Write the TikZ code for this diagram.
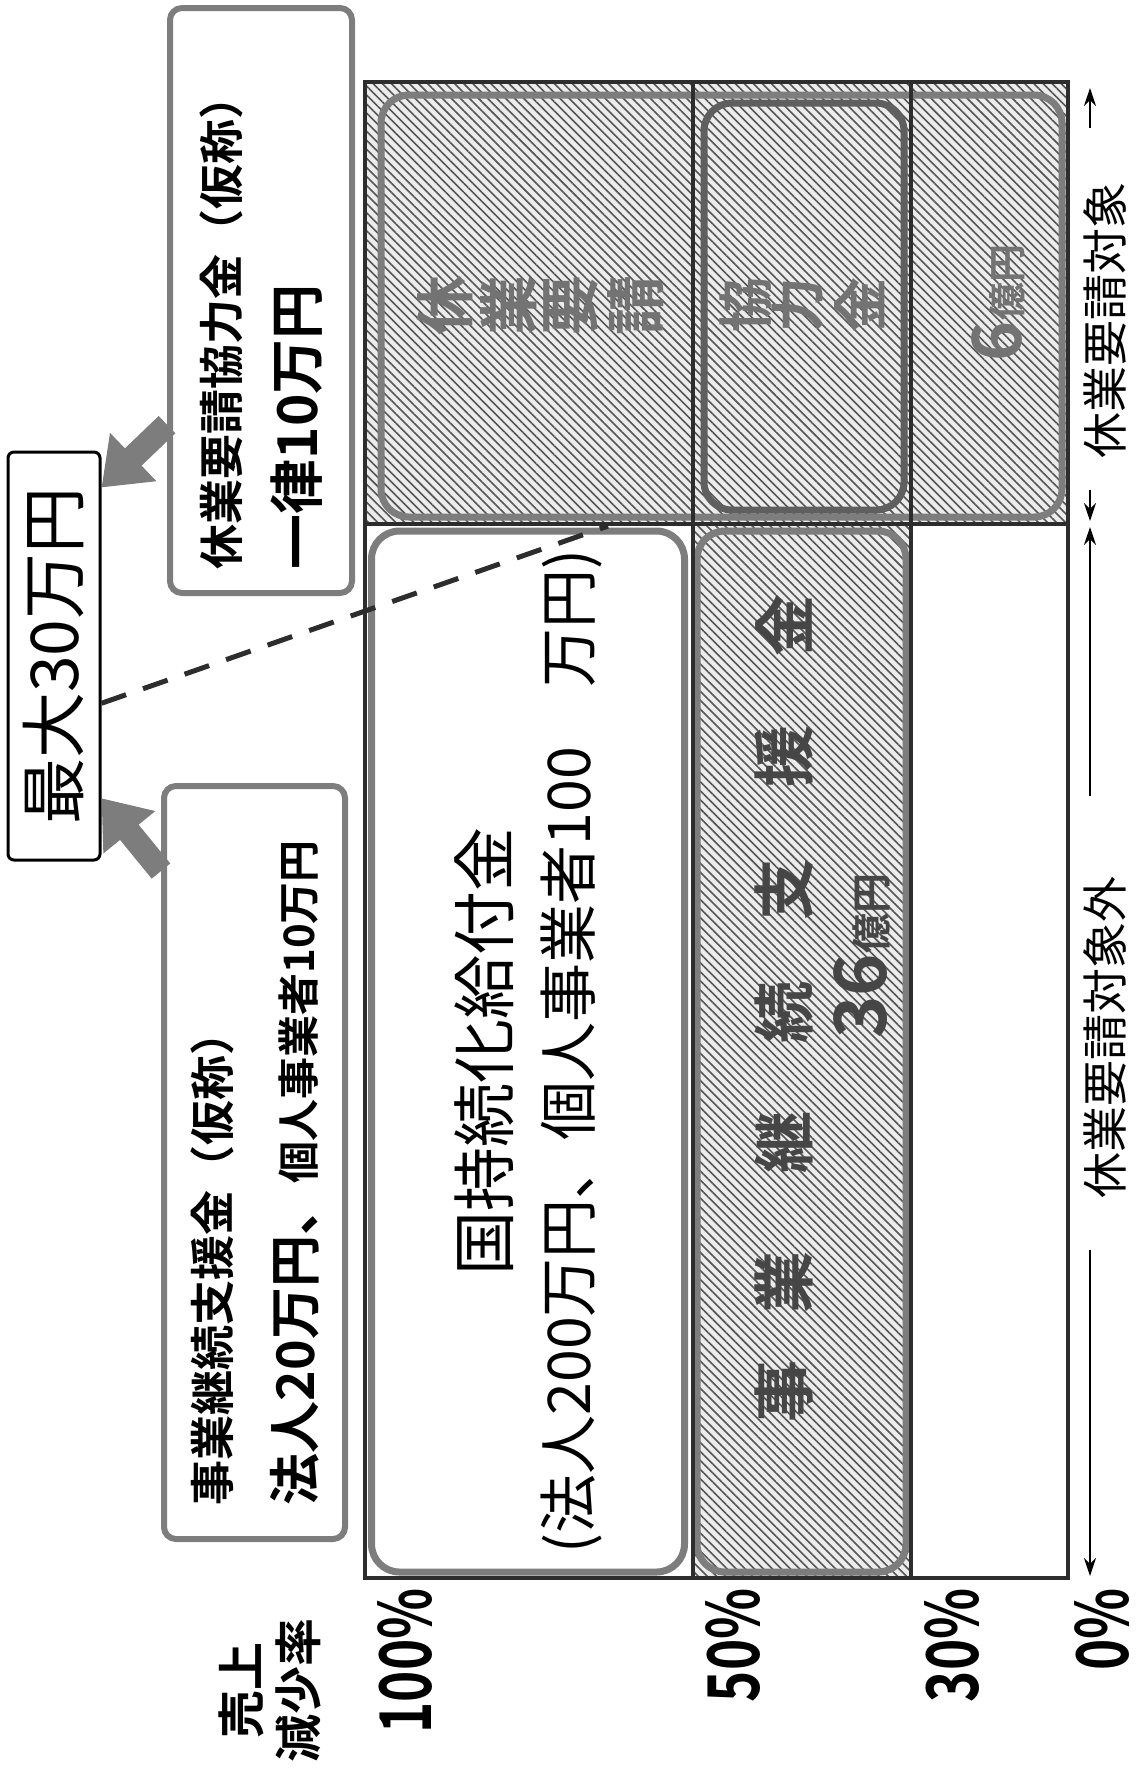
\documentclass[tikz,border=0pt]{standalone}
\usepackage{fontspec}
\usepackage{graphicx}
\setmainfont{Noto Sans CJK JP}[BoldFont={Noto Sans CJK JP Bold}]
\usetikzlibrary{arrows.meta,calc,patterns.meta}
\definecolor{box_gray}{RGB}{125,125,125}
\definecolor{mid_gray}{RGB}{95,95,95}
\definecolor{line_dark}{RGB}{45,45,45}
\definecolor{hatch_bg}{RGB}{236,236,236}
\definecolor{hatch_line}{RGB}{85,85,85}
\definecolor{txt_gray}{RGB}{115,115,115}
\definecolor{txt_dark}{RGB}{70,70,70}
\newcommand\tallpct[1]{\scalebox{1}[1.35]{#1}}

\begin{document}
\begin{tikzpicture}[x=0.5pt,y=-0.5pt]
    \tikzstyle{hatch}=[fill=hatch_bg, postaction={pattern={Lines[angle=-45,distance=3.2pt,line width=0.8pt]}, pattern color=hatch_line}]
    \tikzstyle{region}=[draw=box_gray, line width=3.5pt, rounded corners=14pt]
    \tikzstyle{divider}=[draw=line_dark, line width=1.6pt]
    \tikzstyle{bandch}=[rotate=90, text=txt_gray, font=\fontsize{30}{30}\selectfont\bfseries]
    \tikzstyle{jgch}=[rotate=90, text=txt_dark, font=\fontsize{31}{31}\selectfont\bfseries]
    \tikzstyle{infobox}=[draw=box_gray, line width=3pt, rounded corners=6pt, fill=white, rotate=90, align=left]
    \tikzstyle{fat}=[draw=box_gray, line width=12pt, -{Triangle[length=22pt,width=32pt]}]
    \tikzstyle{dashln}=[draw=line_dark, line width=2.5pt, dash pattern=on 13pt off 9pt]
    \tikzstyle{pct}=[rotate=90, anchor=north east, inner sep=0pt, font=\fontsize{26.5}{26.5}\selectfont\bfseries]
    \tikzstyle{sidelbl}=[rotate=90, inner sep=0pt, font=\fontsize{23}{23}\selectfont]
    \tikzstyle{rng}=[draw=black, line width=1.2pt, -{Stealth[length=9pt,width=6pt]}]

    \useasboundingbox (0,0) rectangle (1144,1774);

    \coordinate (fnw) at (365,82);
    \coordinate (fse) at (1068,1578);
    \coordinate (c50) at (693,82);
    \coordinate (c30) at (911,82);
    \coordinate (bandl) at (365,524);

    % hatched parts
    \fill[hatch] (fnw) rectangle (1068,524);
    \fill[hatch] (693,524) rectangle (911,1578);

    \node[region, minimum width=340.5pt, minimum height=211pt] (kybox) at (721.5,306) {};
    \node[region, draw=mid_gray, minimum width=100pt, minimum height=203.5pt] (kymid) at (804,306.5) {};
    \node[region, rotate=90, minimum width=520.5pt, minimum height=156.5pt, align=center, font=\fontsize{32}{41}\selectfont] (kzbox) at (528,1051.5) {国持続化給付金\\{\fontsize{29.5}{41}\selectfont (法人200万円、個人事業者100　万円)}};
    \node[region, minimum width=104.5pt, minimum height=520.5pt] (jgbox) at (801.5,1051.5) {};

    \draw[divider] (bandl) -- (fse |- bandl);
    \draw[divider] (c50) -- (c50 |- fse);
    \draw[divider] (c30) -- (c30 |- fse);
    \draw[divider] (fnw) rectangle (fse);

    \node[bandch] (k1) at (445,305) {休};
    \node[bandch] (k2) at (509,305) {業};
    \node[bandch] (k3) at (571,305) {要};
    \node[bandch] (k4) at (636,305) {請};
    \node[bandch, font=\fontsize{27.5}{30}\selectfont\bfseries] (k5) at (746,305) {協};
    \node[bandch, font=\fontsize{27.5}{30}\selectfont\bfseries] (k6) at (798,305) {力};
    \node[bandch, font=\fontsize{27.5}{30}\selectfont\bfseries] (k7) at (860,305) {金};
    \node[bandch] (k8) at (998,303) {\fontsize{34}{34}\selectfont 6\fontsize{19}{19}\selectfont 億円};

    \node[jgch] (j1) at (784,1391) {事};
    \node[jgch] (j2) at (784,1282) {業};
    \node[jgch] (j3) at (784,1142) {継};
    \node[jgch] (j4) at (784,1012) {続};
    \node[jgch] (j5) at (784,889) {支};
    \node[jgch] (j6) at (784,756) {援};
    \node[jgch] (j7) at (784,625) {金};
    \node[jgch] (j8) at (862,956) {\fontsize{36}{36}\selectfont 36\fontsize{20}{20}\selectfont 億円};

    % boxes on the left
    \node[infobox, text width=268.5pt, inner xsep=12pt, minimum height=91pt, font=\fontsize{22.5}{39.5}\selectfont\bfseries] (kyinfo) at (261,300.5) {休業要請協力金（仮称）\\{\fontsize{27.5}{39.5}\selectfont 一律10万円}};
    \node[infobox, text width=342.5pt, inner xsep=17pt, minimum height=90.5pt, font=\fontsize{22.5}{42.5}\selectfont\bfseries] (jginfo) at (254.5,1162.5) {事業継続支援金（仮称）\\{\fontsize{26}{42.5}\selectfont 法人20万円、}{\fontsize{21}{42.5}\selectfont 個人事業者10万円}};
    \node[draw=black, line width=1.5pt, rounded corners=3pt, rotate=90, minimum width=204pt, minimum height=46pt, font=\fontsize{33}{33}\selectfont] (maxbox) at (54,656) {最大30万円};

    \draw[fat] ($(kyinfo.north west)!0.29!(kyinfo.north east)$) -- ($(maxbox.south east)!0.09!(maxbox.south west)$);
    \draw[fat] ($(jginfo.north east)!0.116!(jginfo.north west)$) -- ($(maxbox.south east)!0.846!(maxbox.south west)$);

    \coordinate (dashend) at (608,526);
    \draw[dashln] ($(maxbox.south east)!0.615!(maxbox.south west)$) -- (dashend);

    % axis labels
    \node[pct] (p100) at (377,1588) {\tallpct{100\%}};
    \node[pct] (p50) at (705,1588) {\tallpct{50\%}};
    \node[pct] (p30) at (924,1588) {\tallpct{30\%}};
    \node[pct] (p0) at (1074,1588) {\tallpct{0\%}};
    \node[rotate=90, align=center, font=\fontsize{24}{28.5}\selectfont\bfseries] (axlbl) at (270,1690) {売上\\減少率};

    \node[sidelbl] (ontgt) at (1105,320) {休業要請対象};
    \node[sidelbl] (offtgt) at (1105,1037) {休業要請対象外};
    \coordinate (rtop) at (1090,88);
    \coordinate (rmid) at (1090,524);
    \coordinate (rbot) at (1090,1576);
    \draw[rng, shorten <=27pt] (rtop |- ontgt.east) -- (rtop);
    \draw[rng, shorten <=16pt, shorten >=1.5pt] (rtop |- ontgt.west) -- (rmid);
    \draw[rng, shorten <=40pt, shorten >=1.5pt] (rtop |- offtgt.east) -- (rmid);
    \draw[rng, shorten <=26pt] (rtop |- offtgt.west) -- (rbot);
\end{tikzpicture}
\end{document}
